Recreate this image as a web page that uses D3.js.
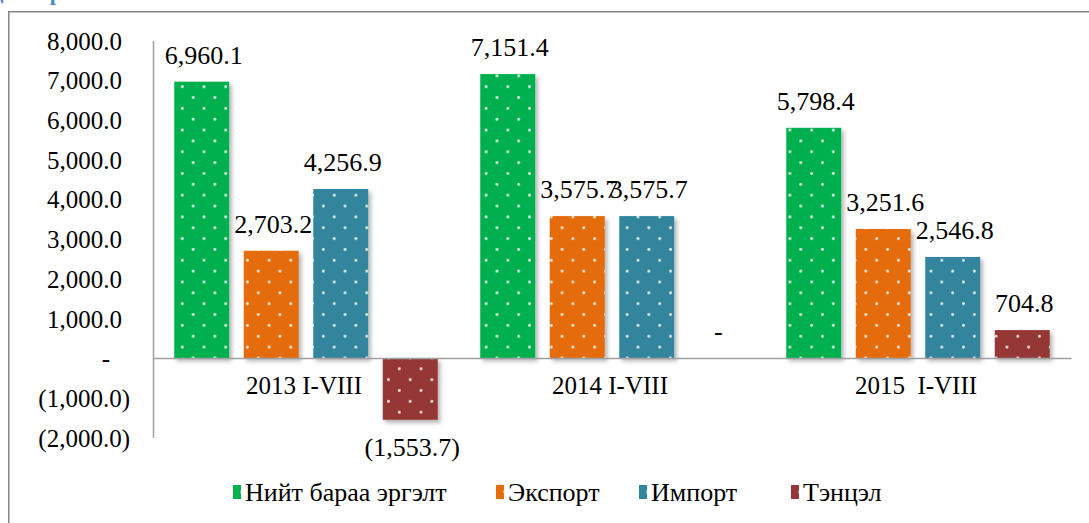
<!DOCTYPE html>
<html><head><meta charset="utf-8">
<script src="https://cdn.jsdelivr.net/npm/d3@7/dist/d3.min.js"></script>
<style>
body{margin:0;background:#fff;}
svg{display:block;font-family:"Liberation Serif","Times New Roman",serif;}
</style>
</head><body>
<svg id="chart" width="1089" height="523"></svg>
<script>
// ---- data ----
const categories = ["2013 I-VIII", "2014 I-VIII", "2015  I-VIII"];
const seriesNames = ["Нийт бараа эргэлт", "Экспорт", "Импорт", "Тэнцэл"];
const totalTrade = [6960.1, 7151.4, 5798.4];
const exportValues = [2703.2, 3575.7, 3251.6];
const importValues = [4256.9, 3575.7, 2546.8];
const balanceValues = [-1553.7, 0, 704.8];
const yTickValues = [-2000, -1000, 0, 1000, 2000, 3000, 4000, 5000, 6000, 7000, 8000];
const titleText = "Монгол улсын гадаад худалдаа, сая ам.доллар";

// ---- styles ----
const seriesColors = ["#00B050", "#E46C0A", "#31859C", "#953735"];

const seriesValues = [totalTrade, exportValues, importValues, balanceValues];
const rows = [];
categories.forEach((c, i) => seriesNames.forEach((s, j) => rows.push({cat: c, ser: s, si: j, v: seriesValues[j][i]})));

const svg = d3.select("#chart");
const defs = svg.append("defs");

// drop shadow
const f = defs.append("filter").attr("id", "shadow").attr("x", "-20%").attr("y", "-20%").attr("width", "150%").attr("height", "150%");
f.append("feDropShadow").attr("dx", 2.5).attr("dy", 3).attr("stdDeviation", 2.2).attr("flood-color", "#000").attr("flood-opacity", 0.3);

// dotted patterns
seriesColors.forEach((col, i) => {
  const p = defs.append("pattern").attr("id", "pat" + i).attr("patternUnits", "userSpaceOnUse")
    .attr("x", 3.3).attr("y", 16.2).attr("width", 21.7).attr("height", 21.7);
  p.append("rect").attr("width", 21.7).attr("height", 21.7).attr("fill", col);
  p.append("circle").attr("cx", 5.4).attr("cy", 5.4).attr("r", 1.4).attr("fill", "#fff").attr("opacity", 0.9);
  p.append("circle").attr("cx", 16.25).attr("cy", 16.25).attr("r", 1.4).attr("fill", "#fff").attr("opacity", 0.9);
});

// frame
svg.append("rect").attr("x", 8.75).attr("y", 11.75).attr("width", 1200).attr("height", 600)
  .attr("fill", "none").attr("stroke", "#868686").attr("stroke-width", 1.5);

// cropped title
svg.append("text").attr("x", 62).attr("y", 0).attr("text-anchor", "end")
  .attr("font-size", 22).attr("font-weight", "bold").attr("fill", "#4A86C5").text(titleText);

// scales
const x0 = d3.scaleBand().domain(categories).range([153, 1071]).padding(0);
const x1 = d3.scaleBand().domain(seriesNames).range([0, x0.bandwidth()]).paddingInner(0.209).paddingOuter(0.306);
const y = d3.scaleLinear().domain([-2000, 8000]).range([437.5, 40.4]);

const fmt = v => v === 0 ? "-" : (v < 0 ? "(" + d3.format(",.1f")(-v) + ")" : d3.format(",.1f")(v));

// bars
svg.append("g").selectAll("rect").data(rows.filter(d => d.v !== 0)).join("rect")
  .attr("x", d => x0(d.cat) + x1(d.ser))
  .attr("y", d => y(Math.max(d.v, 0)))
  .attr("width", x1.bandwidth())
  .attr("height", d => Math.abs(y(d.v) - y(0)))
  .attr("fill", d => "url(#pat" + d.si + ")")
  .attr("filter", "url(#shadow)");

// y axis
const yAxis = svg.append("g").attr("transform", "translate(153,0)")
  .call(d3.axisLeft(y).tickValues(yTickValues).tickSize(0).tickSizeOuter(0).tickFormat(fmt));
yAxis.attr("font-family", null);
yAxis.select(".domain").attr("stroke", "#A0A0A0").attr("stroke-width", 1.5);
yAxis.selectAll(".tick text")
  .attr("font-size", 25).attr("fill", "#000")
  .attr("x", d => d > 0 ? -31 : (d < 0 ? -23 : -43))
  .attr("dy", "0.35em");

// x axis at zero
const xAxis = svg.append("g").attr("transform", `translate(0,${y(0)})`)
  .call(d3.axisBottom(x0).tickSize(0).tickSizeOuter(0));
xAxis.attr("font-family", null);
xAxis.select(".domain").attr("stroke", "#A0A0A0").attr("stroke-width", 1.5);
xAxis.selectAll(".tick text")
  .attr("font-size", 25).attr("fill", "#000")
  .attr("x", -2)
  .attr("y", 27).attr("dy", "0.35em").style("white-space", "pre");

// value labels
svg.append("g").selectAll("text").data(rows).join("text")
  .attr("x", d => x0(d.cat) + x1(d.ser) + x1.bandwidth() / 2 + 2)
  .attr("y", d => d.v < 0 ? y(d.v) + 36 : y(d.v) - 18)
  .attr("text-anchor", "middle").attr("font-size", 26).attr("fill", "#000")
  .text(d => fmt(d.v));

// legend
const legendX = [233, 496, 639, 791];
const lg = svg.append("g").selectAll("g").data(seriesNames).join("g")
  .attr("transform", (d, i) => `translate(${legendX[i]},492)`);
lg.append("rect").attr("x", 0).attr("y", -7).attr("width", 8).attr("height", 14)
  .attr("fill", (d, i) => "url(#pat" + i + ")");
lg.append("text").attr("x", 12).attr("dy", "0.35em").attr("font-size", 26).attr("fill", "#000").text(d => d);
</script>
</body></html>
